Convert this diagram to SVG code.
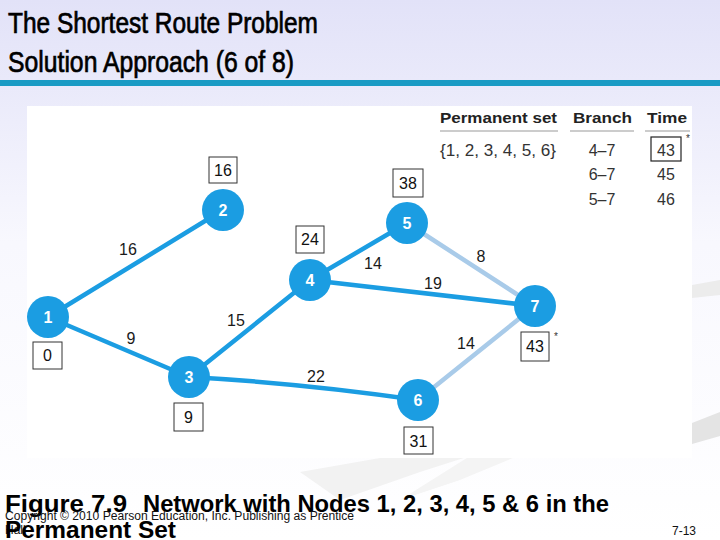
<svg xmlns="http://www.w3.org/2000/svg" width="720" height="540" viewBox="0 0 720 540">
<defs>
<linearGradient id="bg" x1="0" y1="0" x2="0" y2="1">
<stop offset="0" stop-color="#e2e2f8"/>
<stop offset="0.45" stop-color="#f8f8fe"/>
<stop offset="1" stop-color="#ffffff"/>
</linearGradient>
<style>
.title{font-family:"Liberation Sans",Arial,sans-serif;font-size:29px;fill:#000;stroke:#000;stroke-width:0.7}
.node circle{fill:#1b9de2}
.node text{font-family:"Liberation Sans",Arial,sans-serif;font-size:16px;font-weight:bold;fill:#fff;text-anchor:middle}
.dark{stroke:#1b9de2;stroke-width:4.5;fill:none;stroke-linecap:round}
.light{stroke:#a9cbe9;stroke-width:4.5;fill:none;stroke-linecap:round}
.lbl{font-family:"Liberation Sans",Arial,sans-serif;font-size:16px;fill:#1a1a1a;text-anchor:middle}
.box rect{fill:#fff;stroke:#333;stroke-width:1}
.box text{font-family:"Liberation Sans",Arial,sans-serif;font-size:16px;fill:#111;text-anchor:middle}
.th{font-family:"Liberation Sans",Arial,sans-serif;font-size:15px;font-weight:bold;fill:#222}
.td{font-family:"Liberation Sans",Arial,sans-serif;font-size:16px;fill:#333}
.rule{stroke:#999;stroke-width:1}
.star{font-family:"Liberation Sans",Arial,sans-serif;font-size:10px;fill:#333}
.cap{font-family:"Liberation Sans",Arial,sans-serif;font-size:24px;font-weight:bold;fill:#000}
.small{font-family:"Liberation Sans",Arial,sans-serif;font-size:12px;fill:#111}
</style>
</defs>
<rect x="0" y="0" width="720" height="540" fill="url(#bg)"/>
<g id="swooshes">
<polygon points="692,285 720,280 720,295 692,298" fill="#ececec"/>
<polygon points="692,423 720,412 720,436 692,444" fill="#e4e4e4"/>
<polygon points="300,472 380,458 470,456 420,472 340,500" fill="#f2f2f2"/>
<polygon points="470,456 520,455 460,480 400,500" fill="#f4f4f4"/>
</g>
<rect x="0" y="80" width="720" height="6" fill="#1a9bc4"/>
<text class="title" x="8" y="33" textLength="310" lengthAdjust="spacingAndGlyphs">The Shortest Route Problem</text>
<text class="title" x="8" y="72" textLength="286" lengthAdjust="spacingAndGlyphs">Solution Approach (6 of 8)</text>
<rect x="27" y="106" width="665" height="352" fill="#fff"/>
<g id="table">
<text class="th" x="440" y="123" textLength="117" lengthAdjust="spacingAndGlyphs">Permanent set</text>
<text class="th" x="573" y="123" textLength="59" lengthAdjust="spacingAndGlyphs">Branch</text>
<text class="th" x="647" y="123" textLength="40" lengthAdjust="spacingAndGlyphs">Time</text>
<line class="rule" x1="440" y1="131" x2="558" y2="131"/>
<line class="rule" x1="570" y1="131" x2="634" y2="131"/>
<line class="rule" x1="645" y1="131" x2="690" y2="131"/>
<text class="td" x="440" y="156" textLength="116" lengthAdjust="spacingAndGlyphs">{1, 2, 3, 4, 5, 6}</text>
<text class="td" x="602" y="156" text-anchor="middle">4–7</text>
<rect x="651" y="137" width="30" height="24" fill="#fff" stroke="#222" stroke-width="1.2"/>
<text class="td" x="666" y="156" text-anchor="middle">43</text>
<text class="star" x="686" y="142">*</text>
<text class="td" x="602" y="180" text-anchor="middle">6–7</text>
<text class="td" x="666" y="180" text-anchor="middle">45</text>
<text class="td" x="602" y="205" text-anchor="middle">5–7</text>
<text class="td" x="666" y="205" text-anchor="middle">46</text>
</g>
<g id="connectors">
<line class="dark" x1="48" y1="317" x2="223" y2="210"/>
<line class="dark" x1="48" y1="317" x2="189" y2="377"/>
<line class="dark" x1="189" y1="377" x2="310" y2="280"/>
<line class="dark" x1="310" y1="280" x2="407" y2="223"/>
<line class="dark" x1="310" y1="280" x2="535" y2="306"/>
<path class="dark" d="M189,377 Q300,383 418,400"/>
<line class="light" x1="407" y1="223" x2="535" y2="306"/>
<line class="light" x1="418" y1="400" x2="535" y2="306"/>
<text class="lbl" x="128" y="255">16</text>
<text class="lbl" x="131" y="344">9</text>
<text class="lbl" x="236" y="326">15</text>
<text class="lbl" x="373" y="269">14</text>
<text class="lbl" x="433" y="289">19</text>
<text class="lbl" x="481" y="262">8</text>
<text class="lbl" x="466" y="349">14</text>
<text class="lbl" x="316" y="382">22</text>
</g>
<g id="node1" class="node"><circle cx="48" cy="317" r="21"/><text x="48" y="323">1</text></g>
<g id="node2" class="node"><circle cx="223" cy="210" r="21"/><text x="223" y="216">2</text></g>
<g id="node3" class="node"><circle cx="189" cy="377" r="21"/><text x="189" y="383">3</text></g>
<g id="node4" class="node"><circle cx="310" cy="280" r="21"/><text x="310" y="286">4</text></g>
<g id="node5" class="node"><circle cx="407" cy="223" r="21"/><text x="407" y="229">5</text></g>
<g id="node6" class="node"><circle cx="418" cy="400" r="21"/><text x="418" y="406">6</text></g>
<g id="node7" class="node"><circle cx="535" cy="306" r="21"/><text x="535" y="312">7</text></g>
<g id="box1" class="box"><rect x="33" y="342" width="29" height="27"/><text x="47.5" y="361">0</text></g>
<g id="box2" class="box"><rect x="209" y="157" width="28" height="26"/><text x="223" y="176">16</text></g>
<g id="box3" class="box"><rect x="174" y="403" width="29" height="28"/><text x="188.5" y="423">9</text></g>
<g id="box4" class="box"><rect x="296" y="226" width="28" height="27"/><text x="310" y="245">24</text></g>
<g id="box5" class="box"><rect x="393" y="169" width="30" height="28"/><text x="408" y="189">38</text></g>
<g id="box6" class="box"><rect x="404" y="427" width="29" height="27"/><text x="418.5" y="447">31</text></g>
<g id="box7" class="box"><rect x="521" y="332" width="28" height="29"/><text x="535" y="352">43</text></g>
<text class="star" x="554" y="340">*</text>
<text class="cap" x="5" y="512" textLength="122" lengthAdjust="spacingAndGlyphs">Figure 7.9</text>
<text class="cap" x="143" y="512" textLength="466" lengthAdjust="spacingAndGlyphs">Network with Nodes 1, 2, 3, 4, 5 &amp; 6 in the</text>
<text class="small" x="5" y="520" textLength="349" lengthAdjust="spacingAndGlyphs">Copyright © 2010 Pearson Education, Inc. Publishing as Prentice</text>
<text class="small" x="5" y="534">Hall</text>
<text class="cap" x="5" y="538" textLength="171" lengthAdjust="spacingAndGlyphs">Permanent Set</text>
<text class="small" x="672" y="535" font-size="13">7-13</text>
</svg>
